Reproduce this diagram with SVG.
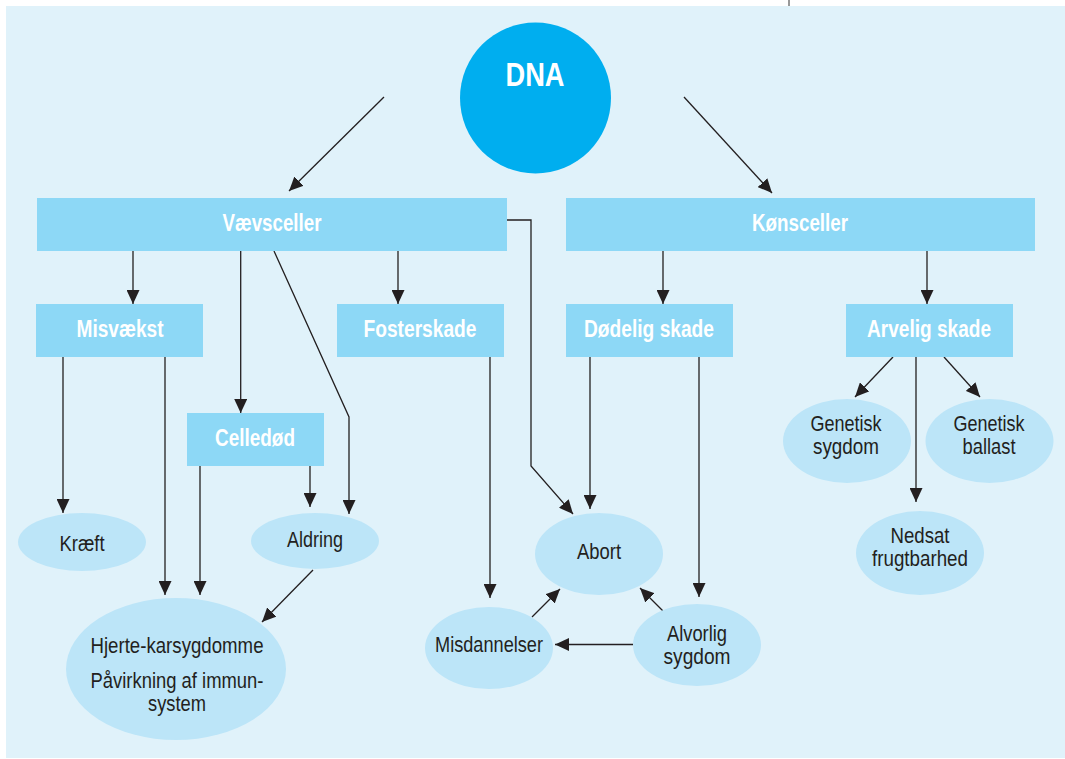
<svg xmlns="http://www.w3.org/2000/svg" width="1065" height="759" viewBox="0 0 1065 759">
  <defs>
    <marker id="arrow" viewBox="0 0 14 13" markerWidth="14" markerHeight="13" refX="14" refY="6.5" orient="auto" markerUnits="userSpaceOnUse">
      <path d="M0,0 L14,6.5 L0,13 Z" fill="#231f20"/>
    </marker>
    <style>
      .box { fill: #8dd8f6; }
      .oval { fill: #bce5f8; }
      .hd { font-family: "Liberation Sans", Arial, sans-serif; font-weight: bold; font-size: 23px; fill: #ffffff; text-anchor: middle; }
      .lbl { font-family: "Liberation Sans", Arial, sans-serif; font-size: 22.5px; fill: #231f20; text-anchor: middle; }
      .conn line, .conn polyline { stroke: #231f20; stroke-width: 1.3; fill: none; }
      .arr { marker-end: url(#arrow); }
    </style>
  </defs>

  <!-- page background and panel -->
  <rect x="0" y="0" width="1065" height="759" fill="#ffffff"/>
  <rect x="6" y="6" width="1059" height="752" fill="#e0f2fa"/>
  <line x1="789" y1="0" x2="789" y2="6" stroke="#555555" stroke-width="1.2"/>

  <!-- connectors -->
  <g id="connectors" class="conn">
    <line class="arr" x1="384" y1="97" x2="289" y2="191"/>
    <line class="arr" x1="684" y1="97" x2="772" y2="193"/>
    <line class="arr" x1="133" y1="251" x2="133" y2="304"/>
    <line class="arr" x1="398" y1="251" x2="398" y2="304"/>
    <line class="arr" x1="663" y1="251" x2="663" y2="304"/>
    <line class="arr" x1="927" y1="251" x2="927" y2="304"/>
    <line class="arr" x1="240.7" y1="251" x2="240.7" y2="413"/>
    <polyline class="arr" points="274,251 349,417 349,514"/>
    <polyline class="arr" points="507,220 531,220 531,466 573,514"/>
    <line class="arr" x1="590" y1="357" x2="590" y2="509"/>
    <line class="arr" x1="699" y1="357" x2="699" y2="597"/>
    <line class="arr" x1="490" y1="357" x2="490" y2="598"/>
    <line class="arr" x1="63" y1="357" x2="63" y2="513"/>
    <line class="arr" x1="165" y1="357" x2="165" y2="595"/>
    <line class="arr" x1="200" y1="466" x2="200" y2="595"/>
    <line class="arr" x1="310" y1="466" x2="310" y2="507"/>
    <line class="arr" x1="313" y1="570" x2="262" y2="622"/>
    <line class="arr" x1="532" y1="617" x2="560" y2="589"/>
    <line class="arr" x1="663" y1="611" x2="640" y2="588"/>
    <line class="arr" x1="633" y1="644.5" x2="555" y2="644.5"/>
    <line class="arr" x1="893" y1="357" x2="855" y2="397"/>
    <line class="arr" x1="916" y1="357" x2="916" y2="502"/>
    <line class="arr" x1="944" y1="357" x2="980" y2="397"/>
  </g>

  <!-- source -->
  <g id="dna">
    <circle cx="535.5" cy="98" r="75.5" fill="#00aeef"/>
    <text class="hd" x="535" y="85.5" style="font-size:34px" textLength="59" lengthAdjust="spacingAndGlyphs">DNA</text>
  </g>

  <!-- cell groups -->
  <g id="vaevsceller">
    <rect class="box" x="37" y="198" width="470" height="53"/>
    <text class="hd" x="272" y="231" textLength="99" lengthAdjust="spacingAndGlyphs">Vævsceller</text>
  </g>
  <g id="koensceller">
    <rect class="box" x="566" y="198" width="469" height="53"/>
    <text class="hd" x="800" y="231" textLength="96" lengthAdjust="spacingAndGlyphs">Kønsceller</text>
  </g>

  <!-- damage categories -->
  <g id="misvaekst">
    <rect class="box" x="36" y="304" width="167" height="53"/>
    <text class="hd" x="120" y="337" textLength="87" lengthAdjust="spacingAndGlyphs">Misvækst</text>
  </g>
  <g id="fosterskade">
    <rect class="box" x="337" y="304" width="167" height="53"/>
    <text class="hd" x="420" y="337" textLength="113" lengthAdjust="spacingAndGlyphs">Fosterskade</text>
  </g>
  <g id="doedelig-skade">
    <rect class="box" x="566" y="304" width="167" height="53"/>
    <text class="hd" x="649" y="337" textLength="130" lengthAdjust="spacingAndGlyphs">Dødelig skade</text>
  </g>
  <g id="arvelig-skade">
    <rect class="box" x="846" y="304" width="167" height="53"/>
    <text class="hd" x="929" y="337" textLength="124" lengthAdjust="spacingAndGlyphs">Arvelig skade</text>
  </g>
  <g id="celledoed">
    <rect class="box" x="187" y="413" width="137" height="53"/>
    <text class="hd" x="255" y="446" textLength="80" lengthAdjust="spacingAndGlyphs">Celledød</text>
  </g>

  <!-- outcomes -->
  <g id="kraeft">
    <ellipse class="oval" cx="82" cy="542" rx="64" ry="29"/>
    <text class="lbl" x="82" y="551" textLength="45" lengthAdjust="spacingAndGlyphs">Kræft</text>
  </g>
  <g id="aldring">
    <ellipse class="oval" cx="315" cy="541" rx="64" ry="28"/>
    <text class="lbl" x="315" y="547" textLength="56" lengthAdjust="spacingAndGlyphs">Aldring</text>
  </g>
  <g id="hjerte-kar">
    <ellipse class="oval" cx="176" cy="669" rx="110" ry="71"/>
    <text class="lbl" x="177" y="653" textLength="173" lengthAdjust="spacingAndGlyphs">Hjerte-karsygdomme</text>
    <text class="lbl" x="177" y="688" textLength="173" lengthAdjust="spacingAndGlyphs">Påvirkning af immun-</text>
    <text class="lbl" x="177" y="711" textLength="58" lengthAdjust="spacingAndGlyphs">system</text>
  </g>
  <g id="abort">
    <ellipse class="oval" cx="599" cy="554" rx="64" ry="41"/>
    <text class="lbl" x="599" y="559" textLength="44" lengthAdjust="spacingAndGlyphs">Abort</text>
  </g>
  <g id="misdannelser">
    <ellipse class="oval" cx="489" cy="648" rx="64" ry="41"/>
    <text class="lbl" x="489" y="652" textLength="108" lengthAdjust="spacingAndGlyphs">Misdannelser</text>
  </g>
  <g id="alvorlig-sygdom">
    <ellipse class="oval" cx="697" cy="645" rx="64" ry="41"/>
    <text class="lbl" x="697" y="641" textLength="60" lengthAdjust="spacingAndGlyphs">Alvorlig</text>
    <text class="lbl" x="697" y="664" textLength="67" lengthAdjust="spacingAndGlyphs">sygdom</text>
  </g>
  <g id="genetisk-sygdom">
    <ellipse class="oval" cx="847" cy="441" rx="64" ry="42"/>
    <text class="lbl" x="846" y="431" textLength="71" lengthAdjust="spacingAndGlyphs">Genetisk</text>
    <text class="lbl" x="846" y="454" textLength="66" lengthAdjust="spacingAndGlyphs">sygdom</text>
  </g>
  <g id="genetisk-ballast">
    <ellipse class="oval" cx="989.5" cy="441" rx="64" ry="42"/>
    <text class="lbl" x="989" y="431" textLength="71" lengthAdjust="spacingAndGlyphs">Genetisk</text>
    <text class="lbl" x="989" y="454" textLength="53" lengthAdjust="spacingAndGlyphs">ballast</text>
  </g>
  <g id="nedsat-frugtbarhed">
    <ellipse class="oval" cx="920" cy="553" rx="64" ry="42"/>
    <text class="lbl" x="920" y="543" textLength="59" lengthAdjust="spacingAndGlyphs">Nedsat</text>
    <text class="lbl" x="920" y="566" textLength="96" lengthAdjust="spacingAndGlyphs">frugtbarhed</text>
  </g>
</svg>
